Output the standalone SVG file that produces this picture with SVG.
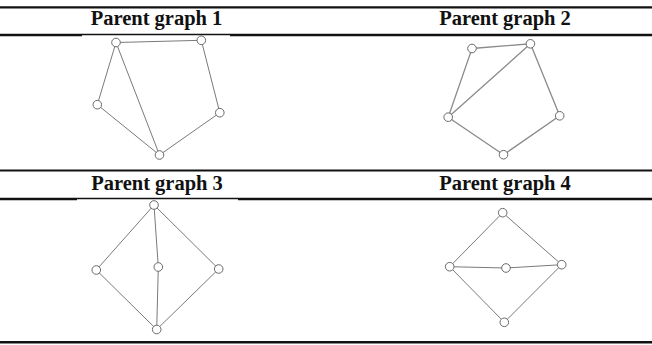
<svg xmlns="http://www.w3.org/2000/svg" width="652" height="345" viewBox="0 0 652 345">
  <style>
    .title { font-family: "Liberation Serif", "Times New Roman", serif; font-weight: bold; font-size: 20.5px; fill: #111; text-anchor: middle; }
    .rule { stroke: #111; fill: none; }
    .edge { stroke: #7a7a7a; stroke-width: 1; fill: none; }
    .edge2 { stroke: #8a8a8a; stroke-width: 1.3; fill: none; }
    .node { fill: #fff; stroke: #6a6a6a; stroke-width: 1; }
  </style>
  <rect width="652" height="345" fill="#fff"/>

  <!-- table rules -->
  <g id="rules">
    <line class="rule" x1="0" y1="7.3" x2="652" y2="7.3" stroke-width="2.2"/>
    <line class="rule" x1="0" y1="35" x2="82" y2="35" stroke-width="2.4"/>
    <line class="rule" x1="82" y1="34.5" x2="230" y2="34.5" stroke-width="1.5"/>
    <line class="rule" x1="230" y1="35" x2="652" y2="35" stroke-width="2.6"/>
    <line class="rule" x1="0" y1="170.5" x2="652" y2="170.5" stroke-width="2.2"/>
    <line class="rule" x1="0" y1="199" x2="77" y2="199" stroke-width="2.4"/>
    <line class="rule" x1="77" y1="198.5" x2="238" y2="198.5" stroke-width="1.5"/>
    <line class="rule" x1="238" y1="199" x2="652" y2="199" stroke-width="2.6"/>
    <line class="rule" x1="0" y1="342.3" x2="652" y2="342.3" stroke-width="2.6"/>
  </g>

  <!-- column headings -->
  <g id="headings">
    <text class="title" x="156.5" y="25">Parent graph 1</text>
    <text class="title" x="505" y="25">Parent graph 2</text>
    <text class="title" x="157" y="190">Parent graph 3</text>
    <text class="title" x="505" y="190">Parent graph 4</text>
  </g>

  <!-- connectors -->
  <g id="connectors">
    <!-- graph 1 -->
    <path class="edge" d="M116,42.5 L201.3,40.3 L219.8,112.7 L159.5,155 L97.3,104.7 Z M116,42.5 L159.5,155"/>
    <!-- graph 2 -->
    <path class="edge2" d="M472,48.5 L530.4,43.8 L559.7,115.8 L503.5,154.7 L448.2,117.2 Z M448.2,117.2 L530.4,43.8"/>
    <!-- graph 3 -->
    <path class="edge" d="M154,205 L96.3,270 L156.7,329.5 L218.7,269 Z M154,205 L158.3,267 L156.7,329.5"/>
    <!-- graph 4 -->
    <path class="edge" d="M502.7,212.7 L449.7,266.7 L504.3,322.3 L561.7,264.7 Z M449.7,266.7 L506,268 L561.7,264.7"/>
  </g>

  <!-- graph 1 nodes -->
  <g id="g1">
    <g id="g1-a"><circle class="node" cx="116" cy="42.5" r="4.3"/></g>
    <g id="g1-b"><circle class="node" cx="201.3" cy="40.3" r="4.3"/></g>
    <g id="g1-c"><circle class="node" cx="97.3" cy="104.7" r="4.3"/></g>
    <g id="g1-d"><circle class="node" cx="219.8" cy="112.7" r="4.3"/></g>
    <g id="g1-e"><circle class="node" cx="159.5" cy="155" r="4.3"/></g>
  </g>

  <!-- graph 2 nodes -->
  <g id="g2">
    <g id="g2-a"><circle class="node" cx="472" cy="48.5" r="4.3"/></g>
    <g id="g2-b"><circle class="node" cx="530.4" cy="43.8" r="4.3"/></g>
    <g id="g2-c"><circle class="node" cx="448.2" cy="117.2" r="4.3"/></g>
    <g id="g2-d"><circle class="node" cx="559.7" cy="115.8" r="4.3"/></g>
    <g id="g2-e"><circle class="node" cx="503.5" cy="154.7" r="4.3"/></g>
  </g>

  <!-- graph 3 nodes -->
  <g id="g3">
    <g id="g3-top"><circle class="node" cx="154" cy="205" r="4.3"/></g>
    <g id="g3-left"><circle class="node" cx="96.3" cy="270" r="4.3"/></g>
    <g id="g3-mid"><circle class="node" cx="158.3" cy="267" r="4.3"/></g>
    <g id="g3-right"><circle class="node" cx="218.7" cy="269" r="4.3"/></g>
    <g id="g3-bottom"><circle class="node" cx="156.7" cy="329.5" r="4.3"/></g>
  </g>

  <!-- graph 4 nodes -->
  <g id="g4">
    <g id="g4-top"><circle class="node" cx="502.7" cy="212.7" r="4.3"/></g>
    <g id="g4-left"><circle class="node" cx="449.7" cy="266.7" r="4.3"/></g>
    <g id="g4-mid"><circle class="node" cx="506" cy="268" r="4.3"/></g>
    <g id="g4-right"><circle class="node" cx="561.7" cy="264.7" r="4.3"/></g>
    <g id="g4-bottom"><circle class="node" cx="504.3" cy="322.3" r="4.3"/></g>
  </g>
</svg>
